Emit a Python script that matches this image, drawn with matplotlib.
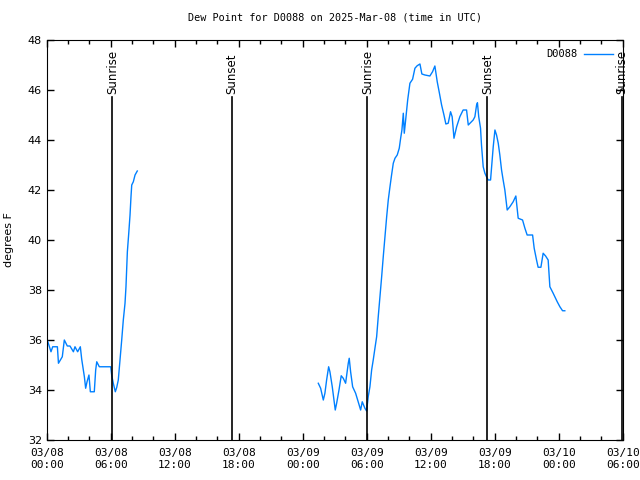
import matplotlib
matplotlib.use("Agg")
import matplotlib.pyplot as plt
from matplotlib.ticker import MultipleLocator

# hours since 03/08 00:00 UTC, dew point in F
hours_a = [0.0, 0.15, 0.4, 0.56, 1.0, 1.1, 1.46, 1.65, 1.93, 2.18, 2.5, 2.65, 2.9, 3.15,
           3.28, 3.53, 3.65, 3.78, 3.96, 4.09, 4.46, 4.59, 4.69, 4.93, 6.0, 6.09, 6.24,
           6.43, 6.56, 6.71, 6.87, 7.03, 7.18, 7.34, 7.43, 7.56, 7.69, 7.81, 7.9, 7.97,
           8.12, 8.28, 8.49]
dew_a = [36.07, 35.87, 35.53, 35.73, 35.73, 35.07, 35.33, 36.0, 35.76, 35.76, 35.53, 35.73,
         35.53, 35.73, 35.23, 34.53, 34.07, 34.33, 34.6, 33.93, 33.93, 34.8, 35.13, 34.93,
         34.93, 34.6, 34.27, 33.93, 34.1, 34.4, 35.2, 36.0, 36.8, 37.47, 38.13, 39.53,
         40.27, 41.0, 41.73, 42.2, 42.33, 42.6, 42.76]

hours_b = [25.46, 25.68, 25.93, 26.08, 26.24, 26.43, 26.55, 26.77, 27.05, 27.18, 27.4, 27.61,
           27.8, 28.02, 28.27, 28.36, 28.49, 28.68, 28.96, 29.2, 29.43, 29.58, 29.83, 29.99,
           30.14, 30.3, 30.46, 30.61, 30.77, 30.93, 31.08, 31.24, 31.4, 31.55, 31.71, 31.87,
           32.02, 32.18, 32.33, 32.49, 32.65, 32.86, 33.05, 33.18, 33.3, 33.43, 33.52, 33.65,
           33.84, 34.05, 34.3, 34.52, 34.73, 34.99, 35.17, 35.45, 35.92, 36.17, 36.39, 36.61,
           36.79, 37.02, 37.24, 37.42, 37.64, 37.86, 38.01, 38.18, 38.43, 38.73, 39.04, 39.36,
           39.52, 39.98, 40.14, 40.3, 40.38, 40.5, 40.67, 40.76, 40.92, 41.08, 41.23, 41.39,
           41.61, 41.71, 41.86, 42.02, 42.17, 42.33, 42.48, 42.64, 42.79, 42.95, 43.17, 43.42,
           43.73, 43.98, 44.2, 44.61, 44.83, 45.04, 45.55, 45.7, 45.92, 46.07, 46.33, 46.54,
           46.77, 47.01, 47.17, 47.48, 47.86, 48.11, 48.36, 48.57]
dew_b = [34.27, 34.07, 33.6, 33.87, 34.4, 34.93, 34.73, 34.13, 33.2, 33.47, 34.0, 34.57,
         34.47, 34.27, 35.07, 35.27, 34.73, 34.13, 33.87, 33.53, 33.2, 33.53, 33.27, 33.16,
         33.73, 34.13, 34.8, 35.2, 35.67, 36.13, 36.93, 37.73, 38.53, 39.33, 40.13, 40.93,
         41.6, 42.13, 42.6, 43.07, 43.27, 43.4, 43.67, 44.07, 44.4, 45.07, 44.27, 44.8,
         45.6, 46.27, 46.43, 46.87, 46.97, 47.04, 46.64, 46.6, 46.56, 46.73, 46.96, 46.33,
         45.93, 45.4, 45.0, 44.64, 44.67, 45.13, 44.93, 44.07, 44.53, 44.93, 45.2, 45.2,
         44.6, 44.8, 44.93, 45.4, 45.49, 44.93, 44.47, 43.8, 42.93, 42.67, 42.53, 42.4,
         42.4, 42.93, 43.73, 44.4, 44.2, 43.87, 43.4, 42.8, 42.4, 42.0, 41.2, 41.33,
         41.53, 41.76, 40.87, 40.8, 40.47, 40.2, 40.2, 39.67, 39.2, 38.91, 38.91, 39.47,
         39.36, 39.2, 38.13, 37.87, 37.53, 37.33, 37.17, 37.17]

sun_hours = [6.15, 17.35, 30.05, 41.3, 53.92]
sun_labels = ["Sunrise", "Sunset", "Sunrise", "Sunset", "Sunrise"]

tick_hours = [0, 6, 12, 18, 24, 30, 36, 42, 48, 54]
tick_labels = ["03/08\n00:00", "03/08\n06:00", "03/08\n12:00", "03/08\n18:00",
               "03/09\n00:00", "03/09\n06:00", "03/09\n12:00", "03/09\n18:00",
               "03/10\n00:00", "03/10\n06:00"]

mono = "DejaVu Sans Mono"
line_color = "#0080ff"

fig = plt.figure(figsize=(6.4, 4.8), dpi=100)
ax = fig.add_axes([0.073, 0.0833, 0.900, 0.8334])

ax.plot(hours_a, dew_a, color=line_color, lw=1, label="D0088")
ax.plot(hours_b, dew_b, color=line_color, lw=1)

for h, lab in zip(sun_hours, sun_labels):
    ax.axvline(h, ymin=0, ymax=0.8575, color="black", lw=1.2)
    ax.text(h, 45.85, lab, rotation=90, ha="center", va="bottom",
            fontsize=8.5, family="DejaVu Sans", clip_on=False)

ax.set_xlim(0, 54)
ax.set_ylim(32, 48)
ax.set_xticks(tick_hours)
ax.set_xticklabels(tick_labels, family=mono, fontsize=8)
ax.xaxis.set_minor_locator(MultipleLocator(2))
ax.yaxis.set_major_locator(MultipleLocator(2))
for lab in ax.get_yticklabels():
    lab.set_fontsize(8)
ax.tick_params(which="both", direction="in", top=True, right=True)
ax.tick_params(which="major", length=5, width=1)
ax.tick_params(which="minor", length=3, width=1)
ax.tick_params(axis="x", pad=6)

ax.set_ylabel("degrees F", fontsize=8, labelpad=10)
ax.set_title("Dew Point for D0088 on 2025-Mar-08 (time in UTC)", family=mono,
             fontsize=7.3, pad=14)

leg = ax.legend(loc="upper right", frameon=False, prop={"family": mono, "size": 7.5},
                markerfirst=False, handlelength=2.8, borderaxespad=0.5, handletextpad=0.6)

fig.savefig("out.png", dpi=100)
